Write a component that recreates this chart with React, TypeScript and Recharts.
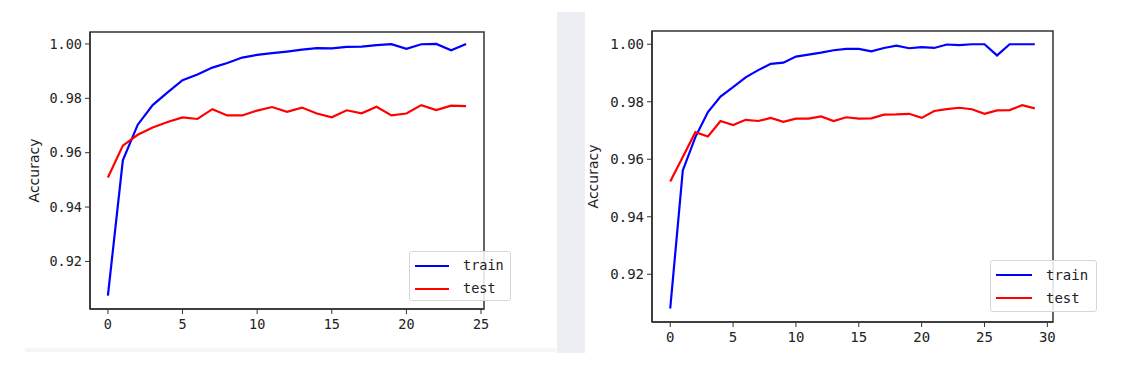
import React from "react";
import { LineChart, Line, XAxis, YAxis, Legend, Label, ReferenceArea } from "recharts";

const epochsLeft = [0, 1, 2, 3, 4, 5, 6, 7, 8, 9, 10, 11, 12, 13, 14, 15, 16, 17, 18, 19, 20, 21, 22, 23, 24];
const trainLeft = [
  0.9074, 0.9572, 0.9703, 0.9775, 0.9822, 0.9867, 0.9888, 0.9913, 0.993, 0.995,
  0.996, 0.9966, 0.9972, 0.9979, 0.9985, 0.9984, 0.9989, 0.999, 0.9996, 0.9999,
  0.9982, 0.9999, 1.0, 0.9977, 1.0,
];
const testLeft = [
  0.9509, 0.9626, 0.9666, 0.9693, 0.9713, 0.973, 0.9724, 0.976, 0.9737, 0.9737,
  0.9755, 0.9768, 0.975, 0.9766, 0.9744, 0.973, 0.9756, 0.9745, 0.9769, 0.9737,
  0.9744, 0.9775, 0.9757, 0.9773, 0.9771,
];

const epochsRight = [0, 1, 2, 3, 4, 5, 6, 7, 8, 9, 10, 11, 12, 13, 14, 15, 16, 17, 18, 19, 20, 21, 22, 23, 24, 25, 26, 27, 28, 29];
const trainRight = [
  0.9081, 0.9561, 0.9677, 0.9764, 0.9818, 0.9851, 0.9885, 0.991, 0.9932, 0.9936,
  0.9957, 0.9964, 0.9971, 0.9979, 0.9984, 0.9984, 0.9975, 0.9987, 0.9995, 0.9986,
  0.999, 0.9987, 0.9999, 0.9997, 1.0, 1.0, 0.9961, 1.0, 1.0, 1.0,
];
const testRight = [
  0.9523, 0.9608, 0.9694, 0.9679, 0.9733, 0.9719, 0.9737, 0.9733, 0.9744, 0.973,
  0.9741, 0.9741, 0.9749, 0.9733, 0.9746, 0.9741, 0.9742, 0.9755, 0.9756, 0.9758,
  0.9744, 0.9768, 0.9774, 0.9779, 0.9774, 0.9758, 0.977, 0.9771, 0.9788, 0.9777,
];

const yTicks = [0.92, 0.94, 0.96, 0.98, 1.0];
const xTicksLeft = [0, 5, 10, 15, 20, 25];
const xTicksRight = [0, 5, 10, 15, 20, 25, 30];
const seriesNames = ["train", "test"];
const seriesColors = ["#0000FF", "#FF0000"];

const AXIS = "#333333";
const MONO = "'DejaVu Sans Mono', monospace";

type LegendPos = { left: number; top: number; width: number; height: number; lineW: number; gap: number; rowH: number };

type PanelProps = {
  epochs: number[];
  train: number[];
  test: number[];
  xTicks: number[];
  xDomain: [number, number];
  yDomain: [number, number];
  width: number;
  height: number;
  margin: { top: number; right: number; bottom: number; left: number };
  labelDx: number;
  legendPos: LegendPos;
  fontSize: number;
};

function makeLegend(lp: LegendPos, fontSize: number) {
  return () => (
    <div
      style={{
        width: lp.width,
        height: lp.height,
        boxSizing: "border-box",
        border: "1px solid #d6d6d6",
        borderRadius: 3,
        background: "rgba(255,255,255,0.85)",
        paddingTop: 2,
        paddingLeft: 5,
      }}
    >
      {seriesNames.map((name, i) => (
        <div key={name} style={{ display: "flex", alignItems: "center", height: lp.rowH }}>
          <div style={{ width: lp.lineW, height: 2, background: seriesColors[i] }} />
          <span style={{ marginLeft: lp.gap, fontFamily: MONO, fontSize, color: "#222", lineHeight: 1 }}>{name}</span>
        </div>
      ))}
    </div>
  );
}

function Panel(p: PanelProps) {
  const data = p.epochs.map((e, i) => ({ epoch: e, train: p.train[i], test: p.test[i] }));
  const tickStyle = { fontFamily: MONO, fontSize: p.fontSize, fill: "#222" };
  return (
    <LineChart width={p.width} height={p.height} data={data} margin={p.margin}>
      <XAxis
        dataKey="epoch"
        type="number"
        domain={p.xDomain}
        ticks={p.xTicks}
        allowDataOverflow
        height={30}
        tickSize={5}
        tickMargin={5}
        tick={tickStyle}
        stroke={AXIS}
        axisLine={{ stroke: AXIS, strokeWidth: 1.5 }}
        tickLine={{ stroke: AXIS }}
      />
      <YAxis
        type="number"
        domain={p.yDomain}
        ticks={yTicks}
        allowDataOverflow
        width={67}
        tickSize={5}
        tickMargin={3}
        tick={tickStyle}
        tickFormatter={(v: number) => v.toFixed(2)}
        stroke={AXIS}
        axisLine={{ stroke: AXIS, strokeWidth: 1.5 }}
        tickLine={{ stroke: AXIS }}
      >
        <Label
          value="Accuracy"
          angle={-90}
          position="center"
          dx={p.labelDx}
          style={{ fontFamily: "'DejaVu Sans', sans-serif", fontSize: 14, fill: "#222" }}
        />
      </YAxis>
      <ReferenceArea
        x1={p.xDomain[0]}
        x2={p.xDomain[1]}
        y1={p.yDomain[0]}
        y2={p.yDomain[1]}
        fill="none"
        fillOpacity={0}
        stroke={AXIS}
        strokeWidth={1.5}
        ifOverflow="visible"
      />
      <Legend
        layout="vertical"
        align="center"
        verticalAlign="middle"
        wrapperStyle={{ position: "absolute", left: p.legendPos.left, top: p.legendPos.top, width: p.legendPos.width }}
        content={makeLegend(p.legendPos, p.fontSize)}
      />
      <Line dataKey="train" name={seriesNames[0]} stroke={seriesColors[0]} strokeWidth={2.2} dot={false} isAnimationActive={false} />
      <Line dataKey="test" name={seriesNames[1]} stroke={seriesColors[1]} strokeWidth={2.2} dot={false} isAnimationActive={false} />
    </LineChart>
  );
}

export default function App() {
  return (
    <div style={{ position: "absolute", left: 0, top: 0, width: 1139, height: 376, background: "#ffffff", overflow: "hidden" }}>
      <div style={{ position: "absolute", left: 25, top: 348, width: 531, height: 4, background: "#f6f6f6" }} />
      <div style={{ position: "absolute", left: 557, top: 12, width: 28, height: 341, background: "#eceef3" }} />
      <div style={{ position: "absolute", left: 23, top: 10 }}>
        <Panel
          epochs={epochsLeft}
          train={trainLeft}
          test={testLeft}
          xTicks={xTicksLeft}
          xDomain={[-1.2, 25.2]}
          yDomain={[0.9025, 1.0044]}
          width={534}
          height={342}
          margin={{ top: 22, right: 73, bottom: 13, left: 0 }}
          labelDx={-22}
          legendPos={{ left: 386, top: 241, width: 102, height: 50, lineW: 34, gap: 14, rowH: 23 }}
          fontSize={13.5}
        />
      </div>
      <div style={{ position: "absolute", left: 585, top: 10 }}>
        <Panel
          epochs={epochsRight}
          train={trainRight}
          test={testRight}
          xTicks={xTicksRight}
          xDomain={[-1.45, 30.45]}
          yDomain={[0.9034, 1.0046]}
          width={554}
          height={356}
          margin={{ top: 21, right: 86, bottom: 14, left: 0 }}
          labelDx={-25}
          legendPos={{ left: 405, top: 250, width: 107, height: 52, lineW: 36, gap: 14, rowH: 23 }}
          fontSize={14}
        />
      </div>
    </div>
  );
}
